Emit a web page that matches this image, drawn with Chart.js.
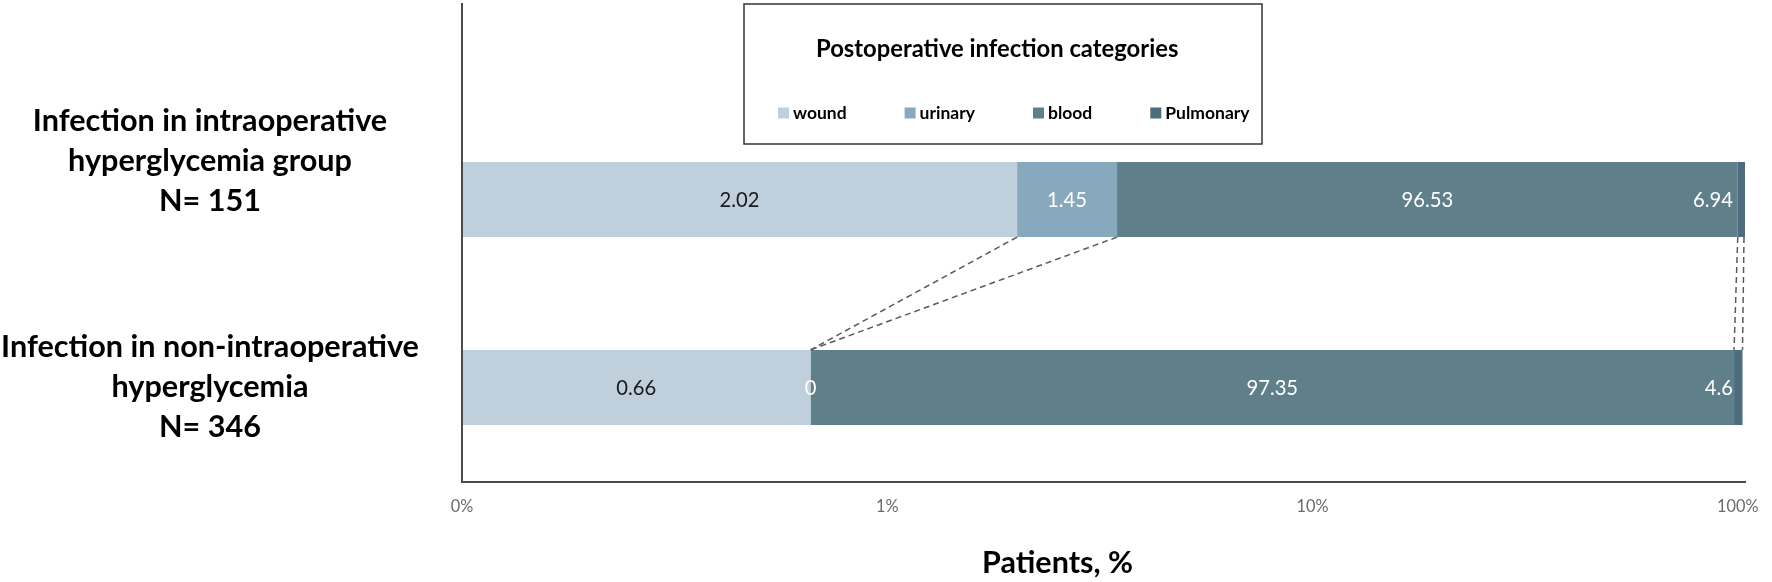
<!DOCTYPE html>
<html>
<head>
<meta charset="utf-8">
<script src="https://cdn.jsdelivr.net/npm/chart.js@4/dist/chart.umd.min.js"></script>
<style>
  html, body { margin: 0; padding: 0; background: #ffffff; }
  #wrap { width: 1772px; height: 582px; position: relative; }
</style>
</head>
<body>
<div id="wrap"><canvas id="c" width="1772" height="582"></canvas></div>
<script>
// ---------------- data ----------------
const categories = [
  ["Infection in intraoperative", "hyperglycemia group", "N= 151"],
  ["Infection in non-intraoperative", "hyperglycemia", "N= 346"]
];
const seriesNames = ["wound", "urinary", "blood", "Pulmonary"];
const woundValues = [2.02, 0.66];
const urinaryValues = [1.45, 0];
const bloodValues = [96.53, 97.35];
const pulmonaryValues = [6.94, 4.6];
const tickValues = [0.1, 1, 10, 100];
const tickLabels = ["0%", "1%", "10%", "100%"];
const legendTitle = "Postoperative infection categories";
const axisTitle = "Patients, %";

// ---------------- style ----------------
const seriesColors = ["#bfd0dc", "#88a8bd", "#5f808a", "#4d6d7e"];
const labelColors = ["#1a1a1a", "#ffffff", "#ffffff", "#ffffff"];
const FAM = "Lato, 'Open Sans', sans-serif";
const catLabelShift = [-38, 0];      // vertical placement of the category text blocks
const catLineHeight = 40;
const axisTitleShift = -46;          // horizontal placement of the axis title

const mctx = document.createElement("canvas").getContext("2d");
function fitSize(text, weight, target) {
  mctx.font = weight + " 100px " + FAM;
  const w = mctx.measureText(text).width;
  return Math.round(1000 * target / w) / 10;
}
const ySize = fitSize("Infection in non-intraoperative", "bold", 418);
const legTitleSize = fitSize(legendTitle, "bold", 363);
const legItemSize = fitSize("Pulmonary", "bold", 84);
const axisTitleSize = fitSize(axisTitle, "bold", 151);
const tickSize = fitSize("10%", "normal", 32);
const dlSize = fitSize("2.02", "normal", 40);

const seriesValues = [woundValues, urinaryValues, bloodValues, pulmonaryValues];

function stackEdges(j) {
  const edges = [0];
  seriesValues.forEach(arr => edges.push(edges[edges.length - 1] + arr[j]));
  return edges;
}

// ---------------- plugins ----------------
const axisDecorPlugin = {
  id: "axisDecor",
  afterDraw(chart) {
    const { ctx, chartArea } = chart;
    const ys = chart.scales.y;
    ctx.save();
    // vertical axis line
    ctx.strokeStyle = "#4a4a4a";
    ctx.lineWidth = 2;
    ctx.beginPath();
    ctx.moveTo(chartArea.left, 3);
    ctx.lineTo(chartArea.left, chartArea.bottom + 1);
    ctx.stroke();
    // category labels
    ctx.fillStyle = "#000000";
    ctx.font = "bold " + ySize + "px " + FAM;
    ctx.textAlign = "center";
    ctx.textBaseline = "middle";
    const cx = chartArea.left - 43 - 209;
    categories.forEach((lines, j) => {
      const cy = ys.getPixelForValue(j) + catLabelShift[j];
      lines.forEach((t, k) => {
        ctx.fillText(t, cx, cy + (k - (lines.length - 1) / 2) * catLineHeight);
      });
    });
    // axis title
    ctx.font = "bold " + axisTitleSize + "px " + FAM;
    ctx.fillText(axisTitle, (chartArea.left + chartArea.right) / 2 + axisTitleShift, 563);
    ctx.restore();
  }
};

const seriesLinesPlugin = {
  id: "seriesLines",
  afterDatasetsDraw(chart) {
    const { ctx, chartArea } = chart;
    const xs = chart.scales.x, ys = chart.scales.y;
    const thick = chart.getDatasetMeta(0).data[0].getProps(["height"], true).height;
    const e0 = stackEdges(0), e1 = stackEdges(1);
    const yTop = ys.getPixelForValue(0) + thick / 2;
    const yBot = ys.getPixelForValue(1) - thick / 2;
    ctx.save();
    ctx.beginPath();
    ctx.rect(chartArea.left, chartArea.top, chartArea.right - chartArea.left + 1, chartArea.bottom - chartArea.top);
    ctx.clip();
    ctx.strokeStyle = "#5a5a5a";
    ctx.lineWidth = 1.5;
    ctx.setLineDash([6, 4]);
    for (let i = 1; i < e0.length; i++) {
      const xa = Math.min(xs.getPixelForValue(e0[i]), chartArea.right - 1);
      const xb = Math.min(xs.getPixelForValue(e1[i]), chartArea.right - 1);
      ctx.beginPath();
      ctx.moveTo(xa, yTop);
      ctx.lineTo(xb, yBot);
      ctx.stroke();
    }
    ctx.restore();
  }
};

const dataLabelPlugin = {
  id: "dataLabels",
  afterDatasetsDraw(chart) {
    const { ctx, chartArea } = chart;
    const xs = chart.scales.x, ys = chart.scales.y;
    ctx.save();
    ctx.beginPath();
    ctx.rect(chartArea.left, chartArea.top, chartArea.right - chartArea.left, chartArea.bottom - chartArea.top);
    ctx.clip();
    ctx.font = "normal " + dlSize + "px " + FAM;
    ctx.textAlign = "center";
    ctx.textBaseline = "middle";
    categories.forEach((c, j) => {
      const edges = stackEdges(j);
      const y = ys.getPixelForValue(j);
      seriesValues.forEach((arr, i) => {
        const txt = String(arr[j]);
        const w = ctx.measureText(txt).width;
        let cx = (xs.getPixelForValue(edges[i]) + xs.getPixelForValue(edges[i + 1])) / 2;
        const limit = chartArea.right - 12;
        if (cx + w / 2 > limit) cx = limit - w / 2;
        ctx.fillStyle = labelColors[i];
        ctx.fillText(txt, cx, y + 1);
      });
    });
    ctx.restore();
  }
};

const boxLegendPlugin = {
  id: "boxLegend",
  afterDraw(chart) {
    const { ctx } = chart;
    const box = { left: 744, top: 4, right: 1262, bottom: 144 };
    ctx.save();
    ctx.fillStyle = "#ffffff";
    ctx.fillRect(box.left, box.top, box.right - box.left, box.bottom - box.top);
    ctx.strokeStyle = "#333333";
    ctx.lineWidth = 1.5;
    ctx.strokeRect(box.left, box.top, box.right - box.left, box.bottom - box.top);
    ctx.fillStyle = "#000000";
    ctx.textBaseline = "middle";
    ctx.textAlign = "left";
    ctx.font = "bold " + legTitleSize + "px " + FAM;
    ctx.fillText(legendTitle, box.left + 72, 49);
    ctx.font = "bold " + legItemSize + "px " + FAM;
    let x = box.left + 34;
    const y = 113;
    chart.data.datasets.forEach((ds) => {
      ctx.fillStyle = ds.backgroundColor;
      ctx.fillRect(x, y - 5.5, 11, 11);
      ctx.fillStyle = "#000000";
      ctx.fillText(ds.label, x + 15, y);
      x += 15 + ctx.measureText(ds.label).width + 58;
    });
    ctx.restore();
  }
};

// ---------------- chart ----------------
const chart = new Chart(document.getElementById("c"), {
  type: "bar",
  data: {
    labels: categories,
    datasets: seriesNames.map((name, i) => ({
      label: name,
      data: seriesValues[i],
      backgroundColor: seriesColors[i],
      borderWidth: 0,
      barPercentage: 0.4,
      categoryPercentage: 1.0,
      clip: 0
    }))
  },
  options: {
    indexAxis: "y",
    responsive: false,
    animation: false,
    devicePixelRatio: 1,
    layout: { padding: { top: 105.5, right: 27, bottom: 0, left: 0 } },
    scales: {
      x: {
        type: "logarithmic",
        stacked: true,
        min: 0.1,
        max: 104,
        afterBuildTicks: (s) => { s.ticks = tickValues.map(v => ({ value: v })); },
        afterFit: (s) => { s.height = 100.5; s.paddingLeft = 0; s.paddingRight = 0; },
        ticks: {
          autoSkip: false,
          maxRotation: 0,
          padding: 15,
          color: "#6b6b6b",
          font: { family: FAM, size: tickSize },
          callback: (v) => {
            const k = tickValues.indexOf(Number(v));
            return k >= 0 ? tickLabels[k] : "";
          }
        },
        grid: { display: false, drawTicks: false },
        border: { display: true, color: "#4a4a4a", width: 2 },
        title: { display: false, text: axisTitle }
      },
      y: {
        type: "category",
        stacked: true,
        offset: true,
        afterFit: (s) => { s.width = 462; },
        grid: { display: false, drawTicks: false },
        border: { display: false },
        ticks: { display: false }
      }
    },
    plugins: {
      legend: { display: false },
      tooltip: { enabled: false }
    }
  },
  plugins: [seriesLinesPlugin, dataLabelPlugin, axisDecorPlugin, boxLegendPlugin]
});
</script>
</body>
</html>
